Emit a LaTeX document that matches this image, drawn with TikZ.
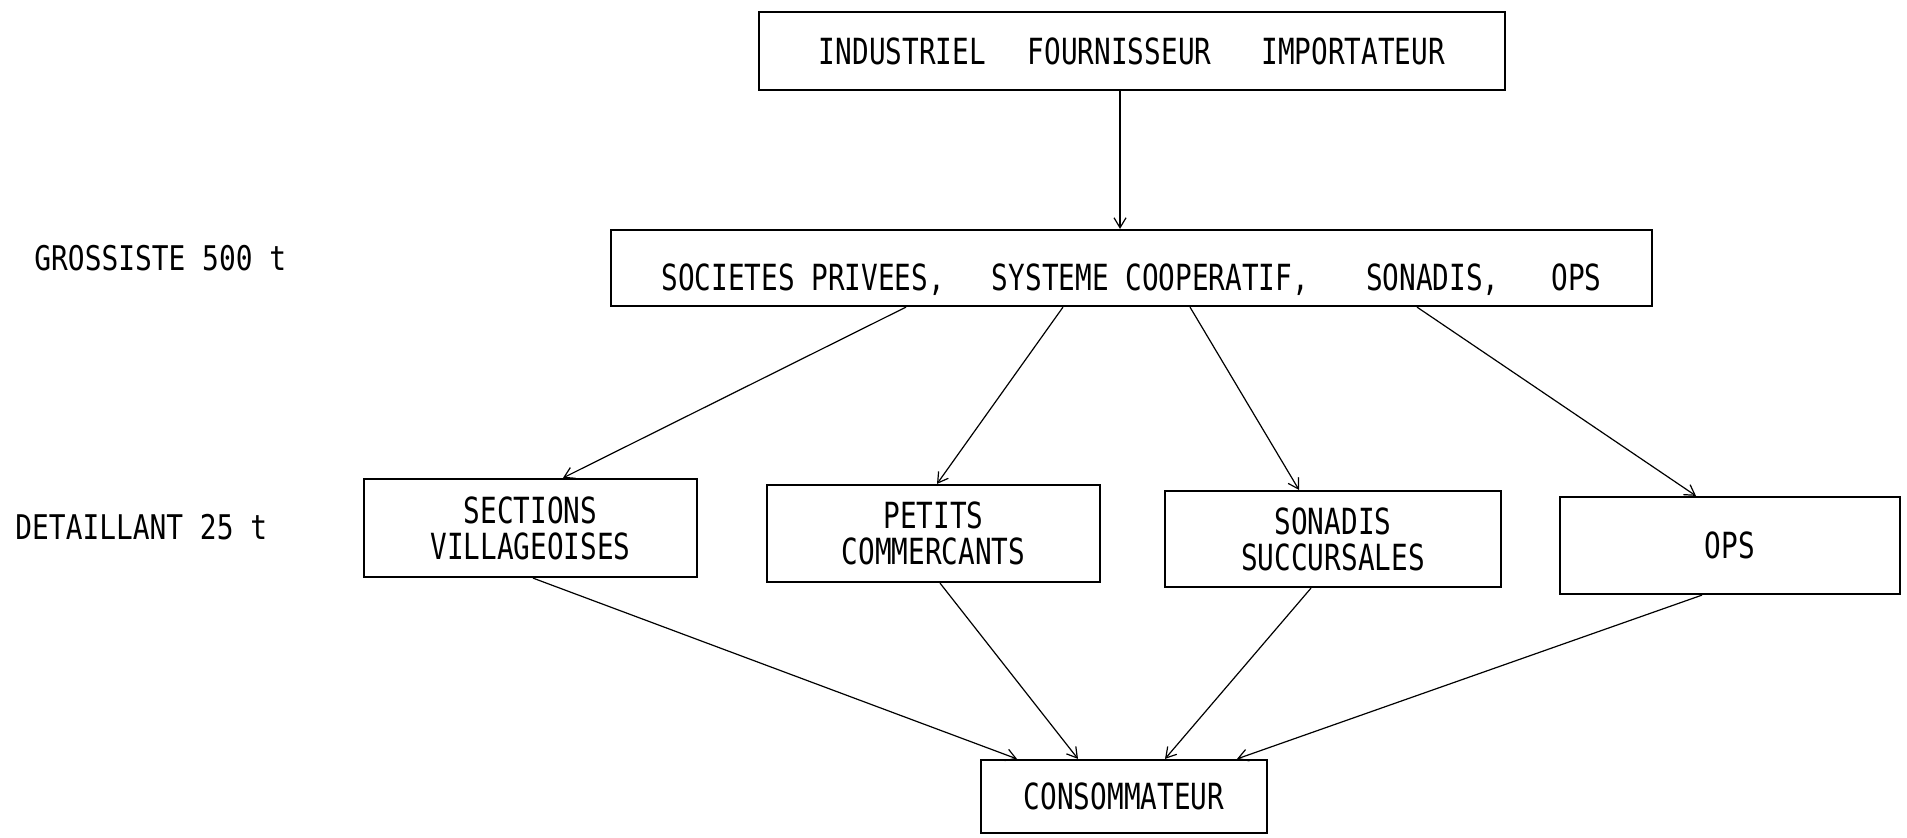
\documentclass[tikz,border=0pt]{standalone}
\usepackage{fontspec}
\newfontfamily\plotfont[FakeStretch=0.77]{DejaVu Sans Mono}
\newfontfamily\sidefont[FakeStretch=0.82]{DejaVu Sans Mono}
\usetikzlibrary{arrows.meta}
\begin{document}
\begin{tikzpicture}[x=0.5pt,y=-0.5pt,
  box/.style={draw, line width=1.1pt, inner sep=0pt, align=center,
    font=\plotfont\fontsize{18}{18}\selectfont},
  lbl/.style={anchor=west, inner sep=0pt,
    font=\sidefont\fontsize{17}{17}\selectfont},
  flow/.style={line width=0.6pt, -{Straight Barb[length=5pt,width=6pt]}}]
\useasboundingbox (0,0) rectangle (1907,837);
\node[box, minimum width=373pt, minimum height=39pt] (top) at (1132,51)
  {INDUSTRIEL\hspace{21pt}FOURNISSEUR\hspace{25pt}IMPORTATEUR};
\node[box, minimum width=520.5pt, minimum height=38pt, text height=22pt, text depth=0pt] (mid) at (1131.5,268)
  {SOCIETES PRIVEES,\hspace{23.5pt}SYSTEME COOPERATIF,\hspace{28.5pt}SONADIS,\hspace{26pt}OPS};
\node[box, minimum width=166.5pt, minimum height=49pt] (sec) at (530.5,528)
  {SECTIONS\\VILLAGEOISES};
\node[box, minimum width=166.5pt, minimum height=48.5pt] (pet) at (933.5,533.5)
  {PETITS\\COMMERCANTS};
\node[box, minimum width=168pt, minimum height=48pt] (son) at (1333,539)
  {SONADIS\\SUCCURSALES};
\node[box, minimum width=170pt, minimum height=48.5pt] (ops) at (1730,545.5)
  {OPS};
\node[box, minimum width=143pt, minimum height=36.5pt] (con) at (1124,796.5)
  {CONSOMMATEUR};
\node[lbl] (gros) at (34,258) {GROSSISTE 500 t};
\node[lbl] (det) at (15,527) {DETAILLANT 25 t};
\draw[flow] ([xshift=-6pt]top.south) -- ([xshift=-5.75pt]mid.north);
\draw[flow] ([xshift=-112.75pt]mid.south) -- ([xshift=16.25pt]sec.north);
\draw[flow] ([xshift=-34.25pt]mid.south) -- ([xshift=1.75pt]pet.north);
\draw[flow] ([xshift=29.25pt]mid.south) -- ([xshift=-17pt]son.north);
\draw[flow] ([xshift=142.75pt]mid.south) -- ([xshift=-17pt]ops.north);
\draw[flow] ([xshift=1.25pt]sec.south) -- ([xshift=-53.5pt]con.north);
\draw[flow] ([xshift=3.25pt]pet.south) -- ([xshift=-23pt]con.north);
\draw[flow] ([xshift=-11pt]son.south) -- ([xshift=20.5pt]con.north);
\draw[flow] ([xshift=-14pt]ops.south) -- ([xshift=56.5pt]con.north);
\end{tikzpicture}
\end{document}
